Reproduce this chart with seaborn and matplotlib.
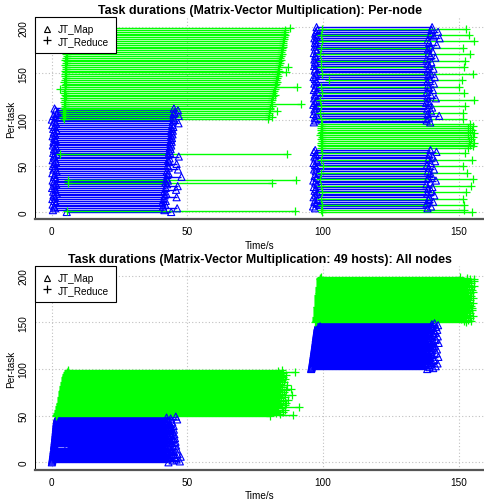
import numpy as np
import pandas as pd
import matplotlib
matplotlib.use("Agg")
import matplotlib.pyplot as plt
from matplotlib.lines import Line2D
import seaborn as sns

sns.set_style("white")
plt.rcParams['font.family'] = ['Liberation Sans', 'DejaVu Sans']
plt.rcParams['text.color'] = 'black'
plt.rcParams['axes.labelcolor'] = 'black'
plt.rcParams['xtick.color'] = 'black'
plt.rcParams['ytick.color'] = 'black'

MAP_COLOR = '#0000FF'
RED_COLOR = '#00FF00'

# -------------------------
# Per-node panel: task rows (y), start and end times (s)
# -------------------------
top_map1_y = [0, 2, 4, 6, 8, 10, 12, 14, 16, 18, 20, 22, 24, 26, 28, 30, 32, 34, 36, 38,
              40, 42, 44, 46, 48, 50, 52, 54, 56, 58, 60, 62, 64, 66, 68, 70, 72, 74, 76, 78,
              80, 82, 84, 86, 88, 90, 92, 94, 96, 98, 100, 102, 104, 106, 108, 110, 112]
top_map1_start = [5.5, 0.4, 1.2, 0.8, 0.3, 1.5, 0.9, 0.2, 1.1, 0.6,
                  1.8, 0.5, 1.3, 0.1, 0.9, 1.6, 0.7, 0.3, 1.4, 0.8,
                  1.0, 0.2, 1.7, 0.6, 1.2, 0.4, 0.9, 1.5, 0.3, 1.1,
                  0.7, 1.9, 0.5, 1.3, 0.8, 1.6, 0.4, 1.0, 0.6, 1.4,
                  0.9, 0.3, 1.2, 0.7, 1.8, 0.5, 1.1, 0.2, 1.5, 0.8,
                  0.0, 1.3, 0.6, 1.7, 2.2, 1.4, 1.0]
top_map1_end = [44.0, 41.5, 46.2, 41.0, 41.8, 40.8, 42.0, 41.2, 46.0, 41.6,
                42.2, 41.4, 45.8, 42.0, 46.4, 42.5, 41.9, 42.8, 42.3, 47.8,
                42.6, 43.0, 42.4, 46.5, 43.1, 42.7, 46.0, 43.2, 42.9, 43.4,
                46.8, 43.0, 43.6, 43.3, 43.8, 43.5, 44.0, 43.7, 44.2, 43.9,
                44.3, 44.0, 44.5, 44.1, 44.6, 44.2, 44.8, 44.4, 46.7, 44.6,
                45.0, 44.7, 46.8, 44.9, 45.2, 46.5, 45.0]

top_red1_y = [1.5, 31, 35, 63,
              101, 103, 105, 107, 109, 111, 113, 115, 117, 119,
              121, 123, 125, 127, 129, 131, 133, 135, 137, 139,
              141, 143, 145, 147, 149, 151, 153, 155, 157, 159,
              161, 163, 165, 167, 169, 171, 173, 175, 177, 179,
              181, 183, 185, 187, 189, 191, 193, 195, 197, 199]
top_red1_start = [5.5, 6.0, 6.1, 3.0,
                  4.5, 4.3, 4.8, 4.6, 4.2, 4.9, 4.4, 4.7, 5.0, 4.5,
                  4.8, 4.6, 5.1, 4.9, 4.4, 4.7, 3.1, 5.0, 4.8, 5.2,
                  4.6, 4.9, 5.3, 4.7, 5.0, 5.2, 4.8, 5.1, 5.4, 4.9,
                  5.2, 5.5, 5.0, 5.3, 5.6, 5.1, 5.4, 5.7, 5.2, 5.5,
                  5.8, 5.3, 5.6, 5.9, 5.4, 5.7, 5.5, 5.8, 5.6, 5.9]
top_red1_end = [89.5, 81.0, 89.9, 86.8,
                79.6, 81.3, 79.9, 80.2, 83.1, 80.4, 80.6, 81.0, 91.7, 80.9,
                81.2, 81.0, 81.5, 82.4, 81.7, 81.9, 82.2, 90.5, 82.3, 82.6,
                82.9, 82.7, 83.1, 83.3, 83.0, 86.5, 83.6, 83.4, 87.0, 83.9,
                84.1, 83.9, 84.4, 84.2, 84.6, 84.8, 84.5, 85.0, 84.9, 85.2,
                85.1, 85.4, 85.3, 85.6, 85.5, 85.8, 85.7, 86.0, 85.9, 87.9]

top_map2_y = [4, 6, 9, 11, 13, 16, 18, 20, 23, 25, 27, 30, 32, 34, 37, 39, 41, 44, 46, 48,
              51, 53, 55, 58, 60, 62, 65, 67,
              97, 99, 102, 104, 106, 109, 111, 113, 116, 118, 120, 123, 125, 127, 130, 132,
              134, 137, 139, 141, 144, 146, 148, 151, 153, 155, 158, 160, 162, 165, 167, 169,
              172, 174, 176, 179, 181, 183, 186, 188, 190, 193, 195, 197, 200]
top_map2_start = [97.0, 96.3, 97.5, 96.8, 97.9, 96.5, 97.2, 98.0, 96.9, 97.4,
                  96.6, 97.8, 97.1, 96.4, 97.6, 96.9, 98.1, 97.3, 96.7, 97.5,
                  97.0, 96.5, 97.8, 97.2, 96.8, 97.4, 96.6, 97.1,
                  96.6, 97.3, 96.9, 97.7, 96.5, 97.2, 96.8, 97.5, 96.4, 97.0,
                  97.6, 96.7, 97.3, 96.9, 97.8, 96.6, 97.1, 97.4, 96.8, 97.6,
                  97.0, 96.5, 97.3, 97.8, 96.9, 97.2, 96.7, 97.5, 97.0, 96.8,
                  97.4, 97.1, 96.6, 97.7, 97.2, 96.9, 97.5, 97.0, 97.3, 96.8,
                  97.6, 97.1, 97.4, 97.9, 97.6]
top_map2_end = [138.5, 139.8, 138.2, 140.6, 138.9, 139.2, 141.0, 138.4, 139.9, 138.7,
                140.3, 138.1, 139.5, 141.6, 138.8, 140.1, 139.3, 138.6, 140.9, 139.0,
                138.3, 139.7, 141.3, 138.9, 140.4, 139.1, 141.8, 139.6,
                139.5, 138.2, 139.0, 142.8, 138.6, 139.8, 138.4, 140.2, 139.1, 138.0,
                138.9, 141.6, 138.5, 139.7, 138.3, 140.5, 139.0, 138.7, 140.9, 138.4,
                139.3, 141.2, 138.8, 139.5, 138.6, 140.7, 139.2, 138.5, 139.9, 138.2,
                141.4, 139.6, 138.9, 140.3, 138.7, 139.4, 141.9, 139.1, 138.6, 143.0,
                140.8, 139.7, 142.4, 140.0, 140.2]

top_red2_y = [0, 2, 7.5, 14.5, 21.5, 28.5, 35.5, 42.5, 49.5, 56.5, 63.5,
              69, 71, 73, 75, 77, 79, 81, 83, 85, 87, 89, 91, 93, 95,
              100.5, 107.5, 114.5, 121.5, 128.5, 135.5, 142.5, 149.5, 156.5, 163.5,
              170.5, 177.5, 184.5, 191.5, 198.5]
top_red2_start = [99.6, 99.2, 99.5, 99.1, 99.7, 99.3, 99.0, 99.4, 99.8, 99.2, 99.5,
                  99.3, 99.6, 99.1, 99.4, 99.7, 99.2, 99.5, 99.0, 99.3, 99.6, 99.2, 99.4, 99.1, 99.5,
                  99.4, 99.0, 99.3, 98.8, 99.6, 99.2, 102.3, 99.5, 99.1, 99.4,
                  98.9, 99.3, 99.7, 99.2, 99.6]
top_red2_end = [155.0, 152.0, 151.8, 151.5, 152.6, 154.6, 155.3, 153.2, 151.6, 154.9, 152.4,
                153.4, 155.2, 154.0, 155.6, 153.8, 154.5, 155.1, 153.6, 155.8, 154.2, 154.8, 153.5, 155.4, 154.1,
                151.7, 151.6, 152.3, 155.6, 151.9, 150.2, 151.4, 155.4, 151.8, 152.2,
                154.1, 151.5, 155.7, 153.9, 152.8]

# -------------------------
# All-nodes panel: tasks in launch order, 50 per group
# -------------------------
bot_map1_start = [0.0, 0.1, 0.1, 0.2, 0.2, 0.3, 0.3, 0.4, 0.4, 0.5,
                  0.5, 0.6, 0.6, 0.6, 0.7, 0.7, 5.5, 0.8, 0.8, 0.9,
                  0.9, 1.0, 1.0, 1.0, 1.1, 1.1, 1.2, 1.2, 1.2, 1.3,
                  1.3, 1.3, 1.4, 1.4, 1.4, 1.5, 1.5, 1.5, 1.6, 1.6,
                  1.6, 1.7, 1.7, 1.7, 1.8, 1.8, 1.9, 1.9, 2.0, 2.1]
bot_map1_end = [43.0, 47.2, 44.5, 46.0, 42.8, 45.5, 47.5, 43.6, 44.9, 46.3,
                42.5, 45.1, 43.8, 44.2, 46.1, 43.3, 42.0, 44.7, 45.8, 43.1,
                42.6, 44.3, 45.6, 43.9, 42.9, 44.8, 45.4, 43.2, 44.0, 42.7,
                45.2, 43.5, 44.6, 42.4, 43.7, 45.0, 42.2, 44.1, 43.4, 44.9,
                42.8, 43.6, 41.9, 44.4, 43.0, 42.5, 46.2, 43.8, 42.3, 45.7]
bot_red1_start = [1.4, 1.6, 1.8, 2.0, 2.1, 2.3, 2.4, 2.5, 2.6, 2.7,
                  2.8, 2.9, 3.0, 3.0, 3.1, 3.2, 3.3, 3.3, 3.4, 3.5,
                  3.5, 3.6, 3.7, 3.7, 3.8, 3.9, 3.9, 4.0, 4.1, 4.1,
                  4.2, 4.3, 4.3, 4.4, 4.5, 4.5, 4.6, 4.7, 4.8, 4.8,
                  4.9, 5.0, 5.1, 5.2, 5.3, 5.4, 5.5, 5.7, 5.9, 6.1]
bot_red1_end = [80.5, 89.0, 84.2, 82.6, 85.3, 83.1, 86.0, 81.9, 84.7, 91.0,
                83.4, 85.8, 82.2, 84.0, 86.4, 83.0, 85.1, 87.2, 82.8, 84.5,
                85.9, 83.7, 88.5, 84.9, 82.4, 85.5, 83.3, 86.2, 84.1, 88.0,
                82.9, 85.0, 83.6, 86.6, 84.3, 82.7, 85.7, 83.9, 84.8, 86.1,
                83.2, 85.4, 84.6, 82.5, 86.3, 84.0, 85.2, 89.6, 83.5, 85.0]
bot_map2_start = [95.6, 95.7, 95.8, 95.8, 95.9, 96.0, 96.0, 96.1, 96.1, 96.2,
                  96.2, 96.3, 96.3, 96.4, 96.4, 96.5, 96.5, 96.6, 96.6, 96.7,
                  96.7, 96.8, 96.8, 96.9, 96.9, 97.0, 97.0, 97.1, 97.1, 97.2,
                  97.2, 97.3, 97.3, 97.3, 97.4, 97.4, 97.5, 97.5, 97.6, 97.6,
                  97.7, 97.7, 97.8, 97.8, 97.9, 97.9, 98.0, 98.1, 98.2, 98.3]
bot_map2_end = [138.4, 140.6, 139.2, 141.5, 138.0, 139.8, 142.2, 138.7, 140.1, 139.4,
                141.0, 138.2, 139.6, 142.5, 138.9, 140.4, 139.1, 141.8, 138.5, 140.0,
                139.3, 142.0, 138.6, 140.8, 139.7, 141.2, 138.3, 139.9, 142.6, 139.0,
                140.5, 138.8, 141.6, 139.5, 140.2, 142.3, 138.9, 140.7, 139.2, 141.4,
                138.6, 140.9, 142.1, 139.4, 140.3, 141.7, 139.8, 142.4, 140.1, 141.1]
bot_red2_start = [97.2, 97.3, 97.3, 97.4, 97.4, 97.5, 97.5, 97.6, 97.6, 97.7,
                  97.7, 97.7, 97.8, 97.8, 97.8, 97.9, 97.9, 97.9, 98.0, 98.0,
                  98.0, 98.1, 98.1, 98.1, 98.2, 98.2, 98.2, 98.3, 98.3, 98.3,
                  98.4, 98.4, 98.4, 98.5, 98.5, 98.5, 98.6, 98.6, 98.6, 98.7,
                  98.7, 98.7, 98.8, 98.8, 98.8, 98.9, 98.9, 99.0, 99.0, 99.1]
bot_red2_end = [152.8, 151.9, 154.6, 153.3, 150.9, 154.0, 152.5, 155.2, 153.7, 151.6,
                154.3, 152.9, 153.8, 155.0, 152.2, 154.8, 153.1, 151.4, 154.5, 153.5,
                152.7, 155.4, 153.9, 152.4, 154.1, 153.0, 155.1, 152.6, 154.7, 153.4,
                151.8, 154.2, 153.6, 155.3, 152.3, 154.9, 153.2, 152.0, 154.4, 155.6,
                153.8, 152.1, 154.6, 153.3, 155.5, 152.9, 154.0, 155.7, 153.1, 150.5]

# task index of the all-nodes panel: maps job1, reduces job1, maps job2, reduces job2
bot_map1_y = np.arange(0, 50)
bot_red1_y = np.arange(50, 100)
bot_map2_y = np.arange(100, 150)
bot_red2_y = np.arange(150, 200)


def task_frame(y, start, end):
    return pd.DataFrame({'task': y, 'start': start, 'end': end})


def draw_tasks(ax, df, kind):
    color = MAP_COLOR if kind == 'map' else RED_COLOR
    ax.hlines(df['task'], df['start'], df['end'], colors=color, linewidth=1.0, zorder=2)
    pts = pd.concat([df[['task', 'start']].rename(columns={'start': 'time'}),
                     df[['task', 'end']].rename(columns={'end': 'time'})])
    if kind == 'map':
        sns.scatterplot(data=pts, x='time', y='task', marker='^', s=26,
                        facecolor='none', edgecolor=color, linewidth=0.8,
                        ax=ax, zorder=3, legend=False)
    else:
        sns.scatterplot(data=pts, x='time', y='task', marker='+', s=38,
                        color=color, linewidth=0.9, ax=ax, zorder=3, legend=False)


def style_panel(ax, title, ylim):
    ax.set_xlim(-6.2, 159.7)
    ax.set_ylim(*ylim)
    ax.set_xticks([0, 50, 100, 150])
    ax.set_yticks([0, 50, 100, 150, 200])
    ax.grid(True, color='#C0C0C0', linestyle=(0, (1, 2)), linewidth=0.8)
    ax.set_axisbelow(True)
    sns.despine(ax=ax)
    ax.spines['left'].set_color('black')
    ax.spines['left'].set_linewidth(0.75)
    ax.spines['bottom'].set_color('#555555')
    ax.spines['bottom'].set_linewidth(1.6)
    ax.tick_params(axis='y', direction='out', length=3.6, width=0.75, color='black',
                   pad=1, labelsize=7.2, labelrotation=90)
    for lbl in ax.get_yticklabels():
        lbl.set_va('center')
    ax.tick_params(axis='x', direction='out', length=2.5, width=1.2, color='#555555',
                   pad=2.5, labelsize=7.2)
    ax.set_xlabel('Time/s', fontsize=7.2, labelpad=2.5)
    ax.set_ylabel('Per-task', fontsize=7.2, labelpad=2)
    ax.set_title(title, fontsize=8.9, fontweight='bold', pad=3, color='black')
    handles = [Line2D([], [], marker='^', linestyle='none', markerfacecolor='none',
                      markeredgecolor='black', markersize=5, markeredgewidth=0.8, label='JT_Map'),
               Line2D([], [], marker='+', linestyle='none', color='black',
                      markersize=6, markeredgewidth=0.9, label='JT_Reduce')]
    leg = ax.legend(handles=handles, loc='upper left', borderaxespad=0, frameon=True,
                    fancybox=False, framealpha=1, edgecolor='black', fontsize=7.2,
                    borderpad=0.7, handlelength=1.0, handletextpad=0.6, labelspacing=0.15)
    leg.get_frame().set_linewidth(0.8)
    leg.set_zorder(10)


fig = plt.figure(figsize=(4.85, 5.02), dpi=100)
ax_top = fig.add_axes([0.0722, 0.5608, 0.9278, 0.4024])
ax_bot = fig.add_axes([0.0722, 0.0622, 0.9278, 0.4051])

draw_tasks(ax_top, task_frame(top_map1_y, top_map1_start, top_map1_end), 'map')
draw_tasks(ax_top, task_frame(top_map2_y, top_map2_start, top_map2_end), 'map')
draw_tasks(ax_top, task_frame(top_red1_y, top_red1_start, top_red1_end), 'reduce')
draw_tasks(ax_top, task_frame(top_red2_y, top_red2_start, top_red2_end), 'reduce')
style_panel(ax_top, 'Task durations (Matrix-Vector Multiplication): Per-node', (-8.1, 210.5))

draw_tasks(ax_bot, task_frame(bot_map1_y, bot_map1_start, bot_map1_end), 'map')
draw_tasks(ax_bot, task_frame(bot_map2_y, bot_map2_start, bot_map2_end), 'map')
draw_tasks(ax_bot, task_frame(bot_red1_y, bot_red1_start, bot_red1_end), 'reduce')
draw_tasks(ax_bot, task_frame(bot_red2_y, bot_red2_start, bot_red2_end), 'reduce')
style_panel(ax_bot, 'Task durations (Matrix-Vector Multiplication: 49 hosts): All nodes', (-8.0, 210.0))

fig.savefig('out.png', dpi=100)
